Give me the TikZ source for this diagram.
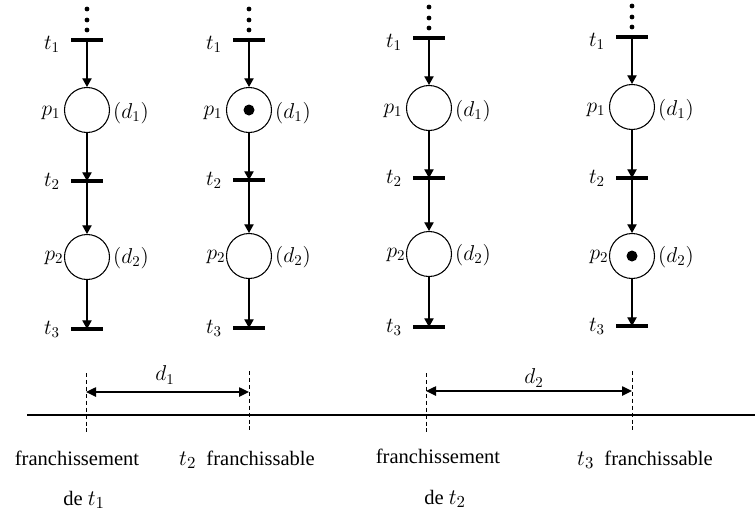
\documentclass[tikz,border=0pt]{standalone}
\usepackage{fontspec}
\setmainfont{Liberation Serif}
\usetikzlibrary{arrows.meta}
\newcommand{\tlmathx}[1]{\scalebox{1.15}{$#1$}}
\begin{document}
\begin{tikzpicture}[x=0.75pt,y=-0.75pt,
  place/.style={draw,circle,line width=0.8pt,minimum size=33.75pt,inner sep=0pt},
  trans/.style={fill=black,minimum width=23.5pt,minimum height=3pt,inner sep=0pt},
  arc/.style={line width=0.9pt,-{Triangle[length=6.5pt,width=7pt]}},
  lab/.style={inner sep=0pt,scale=1.12,font=\fontsize{14.4}{16}\selectfont},
  txt/.style={inner sep=0pt,font=\fontsize{15.4}{18}\selectfont},
  token/.style={circle,fill=black,minimum size=8.25pt,inner sep=0pt},
  dot/.style={circle,fill=black,minimum size=3.6pt,inner sep=0pt},
  guide/.style={dash pattern=on 3pt off 2.2pt,line width=0.75pt},
  span/.style={line width=1.1pt,{Triangle[length=7.5pt,width=7pt]}-{Triangle[length=7.5pt,width=7pt]}},
]
\useasboundingbox (0,0) rectangle (755,515);

\foreach \col/\xx/\ya/\yb/\yc/\yd/\ye in {A/87/40/110/181/257/329, B/249/40/110/180/256/328, C/429/38/108/178/254/327, D/632/37/107/178/256/326} {
  \node[trans] (t1\col) at (\xx,\ya) {};
  \node[place] (p1\col) at (\xx,\yb) {};
  \node[trans] (t2\col) at (\xx,\yc) {};
  \node[place] (p2\col) at (\xx,\yd) {};
  \node[trans] (t3\col) at (\xx,\ye) {};
  \node[dot] (da\col) at (\xx,\ya-10) {};
  \node[dot] (db\col) at (\xx,\ya-20) {};
  \node[dot] (dc\col) at (\xx,\ya-31) {};
  \node[lab] (lt1\col) at (\xx-35,\ya+4) {$t_1$};
  \node[lab] (lp1\col) at (\xx-36,\yb+3) {$p_1$};
  \node[lab] (ld1\col) at (\xx+44,\yb+3) {$(d_1)$};
  \node[lab] (lt2\col) at (\xx-35,\yc) {$t_2$};
  \node[lab] (lp2\col) at (\xx-33,\yd+1) {$p_2$};
  \node[lab] (ld2\col) at (\xx+44,\yd+1) {$(d_2)$};
  \node[lab] (lt3\col) at (\xx-35,\ye) {$t_3$};
  \draw[arc] (t1\col.center) -- (p1\col.north);
  \draw[arc] (p1\col.south) -- (t2\col.center);
  \draw[arc] (t2\col.center) -- (p2\col.north);
  \draw[arc] (p2\col.south) -- (t3\col.center);
}
\node[token] (k1) at (p1B) {};
\node[token] (k2) at (p2D) {};

% timeline
\coordinate (tl0) at (27,415);
\coordinate (tl1) at (755,415);
\draw[line width=1.1pt] (tl0) -- (tl1);
\coordinate (g1t) at (86,373);  \coordinate (g1b) at (86,433);
\coordinate (g2t) at (249,371); \coordinate (g2b) at (249,430);
\coordinate (g3t) at (426,373); \coordinate (g3b) at (426,433);
\coordinate (g4t) at (632,371); \coordinate (g4b) at (632,430);
\draw[guide] (g1t) -- (g1b);
\draw[guide] (g2t) -- (g2b);
\draw[guide] (g3t) -- (g3b);
\draw[guide] (g4t) -- (g4b);
\coordinate (s1a) at (86,392);  \coordinate (s1b) at (249,392);
\coordinate (s2a) at (426,391); \coordinate (s2b) at (632,391);
\draw[span] (s1a) -- (s1b);
\draw[span] (s2a) -- (s2b);
\node[lab] (dd1) at (165,375) {$d_1$};
\node[lab] (dd2) at (534,378) {$d_2$};

\node[txt] (f1) at (77,458) {franchissement};
\node[txt] (f1b) at (84,500) {de \tlmathx{t_1}};
\node[txt] (f2) at (247,460) {\tlmathx{t_2}\hspace{0.5em}franchissable};
\node[txt] (f3) at (438,456) {franchissement};
\node[txt] (f3b) at (445,499) {de \tlmathx{t_2}};
\node[txt] (f4) at (645,460) {\tlmathx{t_3}\hspace{0.5em}franchissable};
\end{tikzpicture}
\end{document}
